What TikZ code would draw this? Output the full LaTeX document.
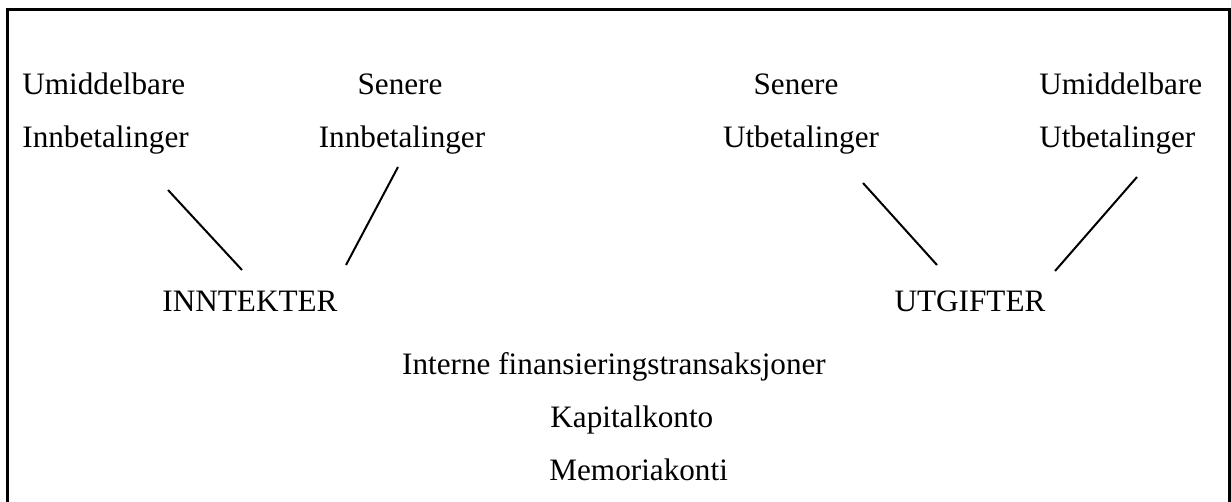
\documentclass[tikz,border=0pt]{standalone}
\usepackage{fontspec}
\setmainfont{Liberation Serif}
\usetikzlibrary{positioning}

\tikzset{
  label/.style={inner sep=0pt, font=\fontsize{15.6}{18}\selectfont},
  link/.style={line width=1pt},
}

\begin{document}
\begin{tikzpicture}[x=0.5pt, y=-0.5pt]
                  \useasboundingbox (0,0) rectangle (1231,502);

                  % Frame (open at the bottom)
                  \draw[line width=1.5pt] (7,520) -- (7,10) -- (1229,10) -- (1229,520);

                  % Upper labels
                  \node[label, anchor=base west] (umA) at (22,95) {Umiddelbare};
                  \node[label, anchor=base west] (innA) at (22,148) {Innbetalinger};
                  \node[label, anchor=base] (senA) at (400,95) {Senere};
                  \node[label, anchor=base] (innB) at (402,148) {Innbetalinger};
                  \node[label, anchor=base] (senB) at (796,95) {Senere};
                  \node[label, anchor=base] (utA) at (801,148) {Utbetalinger};
                  \node[label, anchor=base west] (umB) at (1039,95) {Umiddelbare};
                  \node[label, anchor=base west] (utB) at (1039,148) {Utbetalinger};

                  % Main headings
                  \node[label, anchor=base] (inntekter) at (250,312) {INNTEKTER};
                  \node[label, anchor=base] (utgifter) at (970,312) {UTGIFTER};

                  % Lower list
                  \node[label, anchor=base] (interne) at (614,374) {Interne finansieringstransaksjoner};
                  \node[label, anchor=base west] (kapital) at (550,427) {Kapitalkonto};
                  \node[label, anchor=base west] (memoria) at (549,480) {Memoriakonti};

                  % Line ends
                  \coordinate (p1) at (168,190);
                  \coordinate (q1) at (242,270);
                  \coordinate (p2) at (398,167);
                  \coordinate (q2) at (346,265);
                  \coordinate (p3) at (863,183);
                  \coordinate (q3) at (937,265);
                  \coordinate (p4) at (1137,177);
                  \coordinate (q4) at (1055,271);

                  % Lines
                  \draw[link] (p1) -- (q1);
                  \draw[link] (p2) -- (q2);
                  \draw[link] (p3) -- (q3);
                  \draw[link] (p4) -- (q4);

              \end{tikzpicture}
\end{document}
